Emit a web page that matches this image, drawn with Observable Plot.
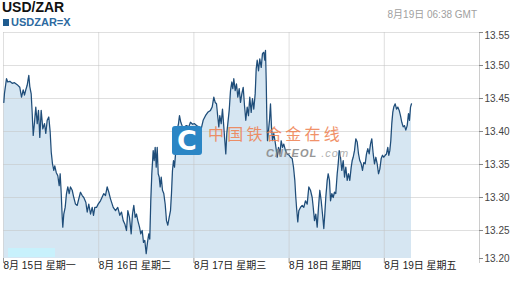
<!DOCTYPE html>
<html><head><meta charset="utf-8">
<script src="https://cdn.jsdelivr.net/npm/d3@7"></script>
<script src="https://cdn.jsdelivr.net/npm/@observablehq/plot@0.6"></script>
<style>
body{margin:0;background:#fff;}
#wrap{position:relative;width:517px;height:283px;overflow:hidden;font-family:"Liberation Sans",Arial,sans-serif;}
#chart{position:absolute;left:0;top:0;}
.t{position:absolute;white-space:nowrap;}
</style></head><body>
<div id="wrap">
<div id="chart"></div>
<div class="t" style="left:8px;top:248px;width:47px;height:9px;background:#c8f1fc"></div>
<div class="t" style="left:2px;top:0px;font-size:14px;line-height:14px;font-weight:bold;color:#111">USD/ZAR</div>
<div class="t" style="left:3px;top:19px;width:6px;height:7px;background:#1f5b8f"></div>
<div class="t" style="left:11px;top:16.7px;font-size:11px;line-height:11px;font-weight:bold;color:#2c6aa0">USDZAR=X</div>
<div class="t" style="right:40px;top:9.5px;font-size:10px;line-height:10px;color:#a0a0a0;font-family:'Liberation Sans','Noto Sans CJK SC',sans-serif">8月19日 06:38 GMT</div>
<div class="t" style="left:172px;top:126px;width:30px;height:29px;border-radius:3px;background:#2b86c5;color:#fff;font-weight:900;font-size:27px;line-height:29px;text-align:center;font-family:'DejaVu Sans',sans-serif">C</div>
<div class="t" style="left:208px;top:125px;font-size:16px;line-height:17px;letter-spacing:3.3px;color:#ef7f4f;opacity:0.85;font-family:'Noto Sans CJK SC',sans-serif">中国铁合金在线</div>
<div class="t" style="left:266px;top:147.5px;font-size:11px;line-height:11px;letter-spacing:1px;color:#8c8c8c;font-style:italic;font-weight:bold;opacity:0.9">CNFEOL<span style="font-weight:normal;color:#aaa"> .com</span></div>
</div>
<script>
const hours = [
0.08,0.25,0.76,1.08,1.59,2.19,2.77,3.45,4.11,4.54,
4.97,5.29,5.62,5.97,6.38,6.63,6.98,7.24,7.49,7.82,
8.14,8.50,8.82,9.15,9.50,9.91,10.34,10.66,11.02,11.42,
11.77,12.03,12.35,12.68,12.93,13.29,13.69,14.04,14.29,14.55,
14.80,14.95,15.20,15.55,15.88,16.21,16.56,16.89,17.32,17.72,
18.15,18.58,18.98,19.41,19.84,20.24,20.75,21.10,21.50,21.93,
22.36,22.69,23.02,23.45,23.87,24.45,25.29,25.71,26.14,26.55,
26.97,27.66,28.24,28.81,29.32,29.75,30.18,30.58,31.01,31.34,
31.76,32.19,32.52,32.85,33.20,33.53,33.86,34.29,34.61,34.97,
35.29,35.62,35.97,36.30,36.63,36.88,37.13,37.39,37.74,37.99,
38.24,38.50,38.75,39.00,39.25,39.50,39.76,40.08,40.41,40.76,
41.09,41.42,41.77,42.10,42.35,42.60,42.86,43.11,43.44,43.79,
44.12,44.37,44.70,45.13,45.63,46.13,46.71,47.14,47.65,48.15,
48.66,49.23,49.84,50.34,50.92,51.50,52.18,52.61,53.02,53.37,
53.70,54.02,54.28,54.53,54.88,55.21,55.54,55.79,56.04,56.29,
56.55,56.90,57.23,57.56,57.81,58.06,58.41,58.74,59.07,59.42,
59.75,60.08,60.43,60.76,61.08,61.44,61.76,62.09,62.44,62.77,
63.10,63.45,63.71,63.96,64.29,64.61,64.97,65.29,65.62,65.87,
66.05,66.23,66.38,66.55,66.81,67.06,67.31,67.56,67.82,68.14,
68.57,69.00,69.33,69.66,70.01,70.34,70.66,71.09,71.52,72.02,
72.35,72.78,73.11,73.44,73.69,73.94,74.19,74.45,74.87,75.30,
75.70,76.13,76.56,76.97,77.39,77.82,78.08,78.40,78.73,79.08,
79.41,79.74,80.09,80.42,80.75,81.00,81.25,81.61,81.86,82.18,
82.44,82.77,83.12,83.44,83.77,84.13,84.38,84.63,84.96,85.29,
85.64,85.97,86.30,86.65,86.97,87.30,87.66,87.91,88.16,88.49,
88.82,89.17,89.50,89.82,90.18,90.50,90.83,91.18,91.51,91.84,
92.19,92.52,92.85,93.20,93.53,93.86,94.21,94.54,94.87,95.22,
95.55,95.87,96.22,96.55,96.88,97.13,97.39,97.64,97.89,98.14,
98.39,98.75,99.08,99.40,99.76,100.08,100.41,100.76,101.09,101.42,
101.77,102.10,102.35,102.61,102.86
];
const rates = [
13.444,13.458,13.480,13.475,13.476,13.473,13.474,13.471,13.467,13.452,
13.463,13.455,13.463,13.470,13.485,13.468,13.457,13.427,13.394,13.414,
13.437,13.412,13.432,13.391,13.432,13.404,13.412,13.397,13.417,13.422,
13.399,13.369,13.351,13.341,13.348,13.338,13.333,13.318,13.336,13.306,
13.270,13.255,13.275,13.285,13.306,13.316,13.306,13.316,13.311,13.300,
13.290,13.288,13.298,13.308,13.303,13.300,13.293,13.278,13.290,13.275,
13.285,13.273,13.285,13.285,13.290,13.295,13.306,13.303,13.316,13.308,
13.298,13.285,13.280,13.285,13.273,13.278,13.265,13.260,13.250,13.280,
13.270,13.245,13.275,13.288,13.270,13.275,13.265,13.255,13.245,13.250,
13.232,13.235,13.215,13.232,13.245,13.237,13.295,13.336,13.371,13.356,
13.376,13.346,13.376,13.336,13.331,13.316,13.331,13.311,13.306,13.290,
13.265,13.258,13.270,13.280,13.306,13.341,13.356,13.346,13.371,13.402,
13.412,13.424,13.414,13.407,13.407,13.409,13.407,13.414,13.411,13.412,
13.409,13.407,13.404,13.417,13.424,13.429,13.432,13.437,13.452,13.444,
13.442,13.422,13.407,13.424,13.412,13.434,13.407,13.386,13.366,13.397,
13.412,13.432,13.462,13.475,13.465,13.480,13.462,13.472,13.452,13.465,
13.444,13.457,13.467,13.439,13.417,13.437,13.424,13.452,13.429,13.450,
13.434,13.457,13.495,13.508,13.492,13.510,13.497,13.518,13.520,13.508,
13.523,13.477,13.422,13.386,13.402,13.417,13.442,13.407,13.386,13.397,
13.381,13.361,13.376,13.366,13.386,13.376,13.381,13.371,13.366,13.364,
13.361,13.359,13.346,13.326,13.300,13.280,13.263,13.280,13.285,13.288,
13.285,13.295,13.290,13.316,13.311,13.300,13.285,13.265,13.275,13.255,
13.285,13.311,13.295,13.275,13.253,13.275,13.300,13.326,13.336,13.326,
13.295,13.306,13.300,13.308,13.306,13.336,13.351,13.371,13.361,13.341,
13.356,13.331,13.346,13.326,13.336,13.326,13.346,13.356,13.361,13.371,
13.389,13.384,13.366,13.356,13.351,13.341,13.353,13.351,13.366,13.374,
13.366,13.381,13.389,13.366,13.351,13.361,13.351,13.336,13.343,13.359,
13.364,13.361,13.364,13.366,13.376,13.364,13.371,13.386,13.412,13.429,
13.437,13.442,13.434,13.437,13.432,13.424,13.414,13.407,13.409,13.402,
13.409,13.427,13.417,13.437,13.442
];
const dayLabels = ["8月 15日 星期一","8月 16日 星期二","8月 17日 星期三","8月 18日 星期四","8月 19日 星期五"];
const yTicks = [13.20,13.25,13.30,13.35,13.40,13.45,13.50,13.55];

const t0 = Date.UTC(2016,7,15);
const data = hours.map((h,i)=>({t:new Date(t0 + h*3600e3), v:rates[i]}));
const days = [15,16,17,18,19,20].map(d=>new Date(Date.UTC(2016,7,d)));
const yMin = 13.2076, yMax = 13.55;
const yLab = d => Math.max(d, yMin);

const chart = Plot.plot({
  width:517, height:283,
  marginTop:32, marginBottom:25, marginLeft:3, marginRight:38,
  style:{fontFamily:"'Liberation Sans','Noto Sans CJK SC',sans-serif", background:"transparent", overflow:"visible"},
  x:{type:"utc", domain:[days[0], days[5]], axis:null},
  y:{domain:[yMin, yMax], axis:null},
  marks:[
    Plot.areaY(data, {x:"t", y1:()=>yMin, y2:"v", fill:"#d6e6f2", curve:"linear"}),
    Plot.ruleY(yTicks.filter(d=>d>13.21), {stroke:"#c4c4c4", strokeOpacity:0.55}),
    Plot.ruleX(days.slice(0,5), {stroke:"#c4c4c4", strokeOpacity:0.55}),
    Plot.ruleX(days.slice(0,5), {y1:()=>yMin, y2:()=>yMin, insetBottom:-5, stroke:"#9a9a9a"}),
    Plot.ruleX([days[5]], {stroke:"#cccccc", insetBottom:-5}),
    Plot.ruleY(yTicks, {y:yLab, x1:()=>days[5], x2:()=>days[5], insetRight:-4, stroke:"#888"}),
    Plot.lineY(data, {x:"t", y:"v", stroke:"#1f4d79", strokeWidth:1.25}),
    Plot.text(dayLabels, {x:(d,i)=>days[i], frameAnchor:"bottom", dy:10, textAnchor:"start", text:d=>d, fontSize:10, fill:"#222"}),
    Plot.text(yTicks.filter(d=>d<yMax), {x:()=>days[5], y:yLab, text:d=>d.toFixed(2), textAnchor:"start", dx:5, fontSize:10, fill:"#444"}),
    Plot.text(yTicks.filter(d=>d>=yMax), {x:()=>days[5], y:yLab, text:d=>d.toFixed(2), textAnchor:"start", dx:5, dy:3, fontSize:10, fill:"#444"})
  ]
});
document.getElementById("chart").appendChild(chart);
</script>
</body></html>
